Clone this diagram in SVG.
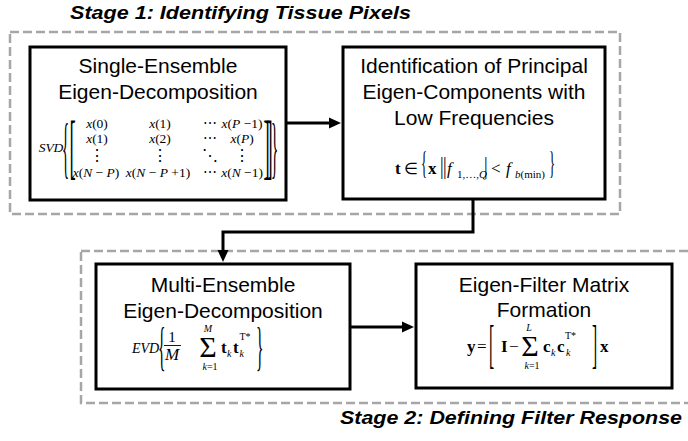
<svg xmlns="http://www.w3.org/2000/svg" width="688" height="441" viewBox="0 0 688 441">
  <style>
    .stage { fill: none; stroke: #a6a6a6; stroke-width: 2.5; stroke-dasharray: 9 4; }
    .box { fill: #ffffff; stroke: #000000; stroke-width: 3; }
    .title { font-family: "Liberation Sans", Arial, sans-serif; font-weight: bold; font-style: italic; font-size: 19px; fill: #000; }
    .lbl { font-family: "Liberation Sans", Arial, sans-serif; font-size: 21px; fill: #000; text-anchor: middle; }
    .m { font-family: "Liberation Serif", "Times New Roman", serif; fill: #000; }
    .mi { font-style: italic; }
    .mb { font-weight: bold; }
    .wire { fill: none; stroke: #000; stroke-width: 3; }
  </style>
  <defs>
    <marker id="head" viewBox="0 0 12 12" refX="2" refY="6" markerWidth="12" markerHeight="12" markerUnits="userSpaceOnUse" orient="auto">
      <path d="M0,0.5 L12,6 L0,11.5 z" fill="#000"/>
    </marker>
  </defs>

  <!-- stage frames -->
  <rect class="stage" x="10" y="32" width="610" height="182"/>
  <rect class="stage" x="81" y="251" width="620" height="152"/>
  <text class="title" x="70" y="19" textLength="341" lengthAdjust="spacingAndGlyphs">Stage 1: Identifying Tissue Pixels</text>
  <text class="title" x="340" y="424" textLength="342" lengthAdjust="spacingAndGlyphs">Stage 2: Defining Filter Response</text>

  <!-- connectors -->
  <g id="connectors">
    <path class="wire" d="M287,123 H331" marker-end="url(#head)"/>
    <path class="wire" d="M473,199 V232 H223 V252" marker-end="url(#head)"/>
    <path class="wire" d="M350,327 H404" marker-end="url(#head)"/>
  </g>

  <!-- single-ensemble decomposition -->
  <g id="node-single">
    <rect class="box" x="30" y="47" width="256" height="153"/>
    <text class="lbl" x="158" y="73">Single-Ensemble</text>
    <text class="lbl" x="158" y="99">Eigen-Decomposition</text>
    <g class="m" font-size="13.5" text-anchor="middle">
      <text class="mi" x="51" y="152">SVD</text>
      <text x="0" y="0" transform="translate(65.5,170) scale(0.22,1)" font-size="68">{</text>
      <text x="0" y="0" transform="translate(72.5,170) scale(0.26,1)" font-size="72">[</text>
      <text x="0" y="0" transform="translate(266.5,170) scale(0.26,1)" font-size="72">]</text>
      <text x="0" y="0" transform="translate(269.5,170) scale(0.26,1)" font-size="72">]</text>
      <text x="0" y="0" transform="translate(274.5,170) scale(0.22,1)" font-size="68">}</text>
      <text x="97" y="128"><tspan class="mi">x</tspan>(0)</text>
      <text x="160" y="128"><tspan class="mi">x</tspan>(1)</text>
      <text x="210" y="128">⋯</text>
      <text x="242" y="128"><tspan class="mi">x</tspan>(<tspan class="mi">P</tspan> −1)</text>
      <text x="97" y="143"><tspan class="mi">x</tspan>(1)</text>
      <text x="160" y="143"><tspan class="mi">x</tspan>(2)</text>
      <text x="210" y="143">⋯</text>
      <text x="242" y="143"><tspan class="mi">x</tspan>(<tspan class="mi">P</tspan>)</text>
      <text x="97" y="161" font-size="16">⋮</text>
      <text x="160" y="161" font-size="16">⋮</text>
      <text x="210" y="161" font-size="16">⋱</text>
      <text x="242" y="161" font-size="16">⋮</text>
      <text x="96" y="177"><tspan class="mi">x</tspan>(<tspan class="mi">N</tspan> − <tspan class="mi">P</tspan>)</text>
      <text x="158" y="177"><tspan class="mi">x</tspan>(<tspan class="mi">N</tspan> − <tspan class="mi">P</tspan> +1)</text>
      <text x="210" y="177">⋯</text>
      <text x="242" y="177"><tspan class="mi">x</tspan>(<tspan class="mi">N</tspan> −1)</text>
    </g>
  </g>

  <!-- principal component selection -->
  <g id="node-principal">
    <rect class="box" x="343" y="47" width="262" height="152"/>
    <text class="lbl" x="474" y="73">Identification of Principal</text>
    <text class="lbl" x="474" y="99">Eigen-Components with</text>
    <text class="lbl" x="474" y="125">Low Frequencies</text>
    <g class="m" font-size="17">
      <text class="mb" x="395" y="174">t</text>
      <text x="404" y="174" font-size="16">∈</text>
      <text x="0" y="0" transform="translate(421,174) scale(0.4,1)" font-size="32">{</text>
      <text class="mb" x="428" y="174">x</text>
      <text x="0" y="0" transform="translate(440,174) scale(0.7,1)" font-size="26">|</text>
      <text x="0" y="0" transform="translate(443,174) scale(0.7,1)" font-size="26">|</text>
      <text class="mi" x="447" y="174">f</text>
      <text x="457" y="178" font-size="11">1,…,<tspan class="mi">Q</tspan></text>
      <text x="0" y="0" transform="translate(484,174) scale(0.7,1)" font-size="26">|</text>
      <text x="491" y="174">&lt;</text>
      <text class="mi" x="506" y="174">f</text>
      <text x="515" y="178" font-size="11"><tspan class="mi">b</tspan>(min)</text>
      <text x="0" y="0" transform="translate(549,174) scale(0.4,1)" font-size="32">}</text>
    </g>
  </g>

  <!-- multi-ensemble decomposition -->
  <g id="node-multi">
    <rect class="box" x="96" y="264" width="254" height="125"/>
    <text class="lbl" x="223" y="292">Multi-Ensemble</text>
    <text class="lbl" x="223" y="318">Eigen-Decomposition</text>
    <g class="m" font-size="17">
      <text class="mi" x="132" y="353" font-size="14">EVD</text>
      <text x="0" y="0" transform="translate(158,363.5) scale(0.3,1)" font-size="52">{</text>
      <text x="172" y="342" font-size="15" text-anchor="middle">1</text>
      <line x1="164" y1="345.5" x2="181" y2="345.5" stroke="#000" stroke-width="0.9"/>
      <text class="mi" x="172" y="360" text-anchor="middle">M</text>
      <text x="208" y="357" font-size="30" text-anchor="middle">Σ</text>
      <text class="mi" x="208" y="332" font-size="10" text-anchor="middle">M</text>
      <text x="210" y="370" font-size="10" text-anchor="middle"><tspan class="mi">k</tspan>=1</text>
      <text class="mb" x="221" y="353">t</text>
      <text class="mi" x="227" y="357" font-size="10">k</text>
      <text class="mb" x="233" y="353">t</text>
      <text x="239.5" y="340" font-size="10">T*</text>
      <text class="mi" x="239.5" y="357" font-size="10">k</text>
      <text x="0" y="0" transform="translate(256,363.5) scale(0.3,1)" font-size="52">}</text>
    </g>
  </g>

  <!-- eigen-filter formation -->
  <g id="node-filter">
    <rect class="box" x="416" y="264" width="256" height="124"/>
    <text class="lbl" x="544" y="292">Eigen-Filter Matrix</text>
    <text class="lbl" x="544" y="317">Formation</text>
    <g class="m" font-size="17">
      <text class="mb" x="467" y="352">y</text>
      <text x="477" y="352">=</text>
      <text x="0" y="0" transform="translate(489,362) scale(0.3,1)" font-size="52">[</text>
      <text class="mb" x="501" y="352">I</text>
      <text x="509" y="352">−</text>
      <text x="530" y="356" font-size="30" text-anchor="middle">Σ</text>
      <text class="mi" x="529" y="331" font-size="10" text-anchor="middle">L</text>
      <text x="532" y="369" font-size="10" text-anchor="middle"><tspan class="mi">k</tspan>=1</text>
      <text class="mb" x="543" y="352">c</text>
      <text class="mi" x="551" y="356" font-size="10">k</text>
      <text class="mb" x="557" y="352">c</text>
      <text x="565" y="339" font-size="10">T*</text>
      <text class="mi" x="566" y="356" font-size="10">k</text>
      <text x="0" y="0" transform="translate(592,362) scale(0.3,1)" font-size="52">]</text>
      <text class="mb" x="600" y="352">x</text>
    </g>
  </g>
</svg>
